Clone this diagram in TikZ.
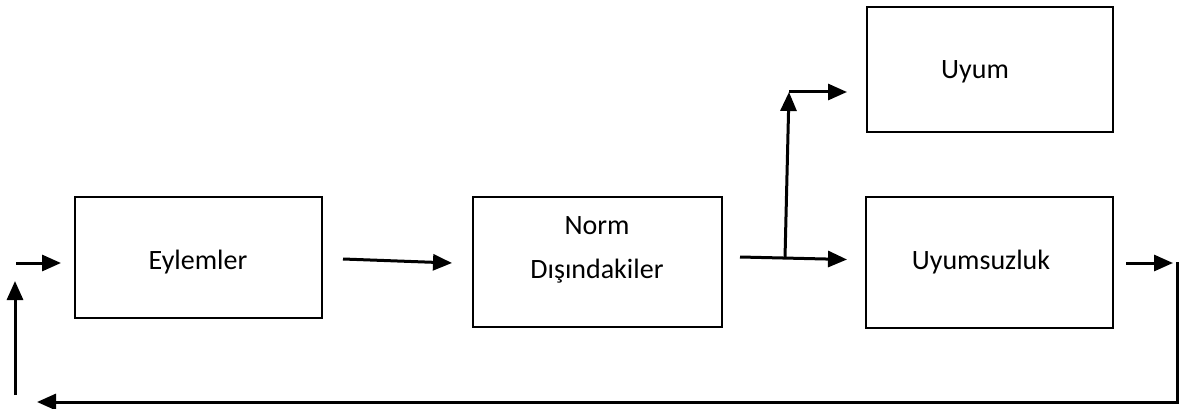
\documentclass[tikz,border=0pt]{standalone}
\usepackage{fontspec}
\setmainfont{Carlito}
\usetikzlibrary{arrows.meta}
\begin{document}
\begin{tikzpicture}[x=1pt,y=-1pt,
  boxst/.style={draw=black,line width=2pt,minimum width=#1,inner sep=0pt},
  txt/.style={font=\fontsize{28}{44}\selectfont,align=center,inner sep=0pt},
  arr/.style={line width=3pt,-{Triangle[length=19pt,width=16pt]}},
  ln/.style={line width=3pt}]
\useasboundingbox (0,0) rectangle (1180,409);
\node[boxst=247pt,minimum height=121pt] (eyl) at (198.5,257.5) {};
\node[boxst=249pt,minimum height=130pt] (norm) at (597.5,262) {};
\node[boxst=246pt,minimum height=125pt] (uyum) at (990,69.5) {};
\node[boxst=247pt,minimum height=131pt] (uyms) at (989.5,262.5) {};
\node[txt] (teyl) at (198,262) {Eylemler};
\node[txt] (tnorm) at (597,250) {Norm\\Dışındakiler};
\node[txt] (tuyum) at (975,72) {Uyum};
\node[txt] (tuyms) at (981,262) {Uyumsuzluk};
\coordinate (in0) at (16,263);
\coordinate (in1) at (61,263);
\coordinate (a0) at (343,259);
\coordinate (a1) at (452,263);
\coordinate (b0) at (740,257);
\coordinate (b1) at (847,259.5);
\coordinate (j) at (785,258);
\coordinate (jt) at (789,92);
\coordinate (c1) at (847,92);
\coordinate (o0) at (1126,263);
\coordinate (o1) at (1173,263);
\coordinate (r0) at (1177,263);
\coordinate (r1) at (1177,402);
\coordinate (r2) at (37,402);
\coordinate (v0) at (15,395);
\coordinate (v1) at (15,281);
\draw[arr] (in0) -- (in1);
\draw[arr] (a0) -- (a1);
\draw[arr] (b0) -- (b1);
\draw[arr] (j) -- (jt);
\draw[arr] (jt) -- (c1);
\draw[arr] (o0) -- (o1);
\draw[ln,line cap=rect,-{Triangle[length=19pt,width=16pt]}] (r0) -- (r1) -- (r2);
\draw[arr] (v0) -- (v1);
\end{tikzpicture}
\end{document}
